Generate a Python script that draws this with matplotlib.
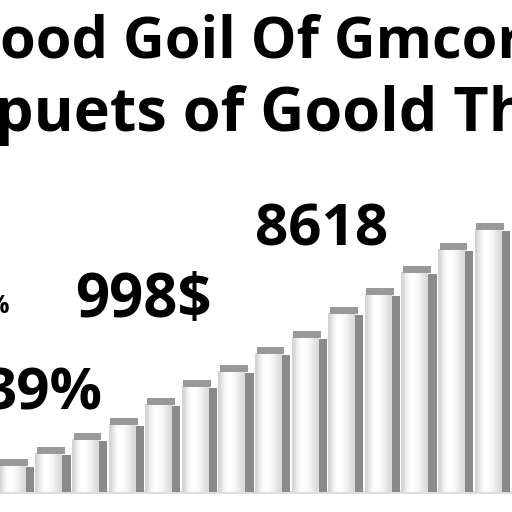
import numpy as np
import matplotlib
matplotlib.use('Agg')
import matplotlib.pyplot as plt

# chart data
values = [33, 45, 59, 74, 94, 112, 127, 145, 161, 185, 204, 226, 249, 269]
title1 = 'ood Goil Of Gmcorv'
title2 = 'puets of Goold Th'
labels = ['8618', '998$', '39%', '%']

plt.rcParams['font.family'] = ['Open Sans', 'DejaVu Sans']

fig = plt.figure(figsize=(5.12, 5.12), dpi=100)
ax = fig.add_axes([0, 0, 1, 1])
ax.axis('off')

x = np.arange(len(values))
v = np.array(values, dtype=float)

# side faces (darker, to the right)
ax.bar(x + 0.44, v - 8, width=0.32, color='#8a8a8a', zorder=2)

# front faces with a soft horizontal gradient
fronts = ax.bar(x, v - 6, width=0.72, color='none', zorder=3)
grad = np.array([[0.82, 0.93, 0.99, 1.0, 0.98, 0.95, 0.9, 0.85]])
for b in fronts:
    x0, w, h = b.get_x(), b.get_width(), b.get_height()
    im = ax.imshow(grad, cmap='gray', vmin=0, vmax=1, aspect='auto',
                   extent=(x0, x0 + w, 0, h), zorder=3, interpolation='bicubic')
    im.set_clip_path(b)

# caps on top
ax.bar(x + 0.06, np.full(len(v), 7.0), bottom=v - 7, width=0.76,
       color='#999999', zorder=4)

# floor shadow
ax.axhline(0, color='#dddddd', lw=2, zorder=1)
ax.set_xlim(-0.33, 13.66)
ax.set_ylim(-20, 492)

# big text
ax.text(0.0, 1 - 57 / 512, title1, transform=ax.transAxes, fontsize=41.5,
        fontweight='bold', va='baseline', ha='left', color='black')
ax.text(-0.01, 1 - 131 / 512, title2, transform=ax.transAxes, fontsize=44,
        fontweight='bold', va='baseline', ha='left', color='black')
ax.text(255 / 512, 1 - 245 / 512, labels[0], transform=ax.transAxes, fontsize=42,
        fontweight='bold', va='baseline', ha='left', color='black', zorder=6)
ax.text(75 / 512, 1 - 317 / 512, labels[1], transform=ax.transAxes, fontsize=43,
        fontweight='bold', va='baseline', ha='left', color='black', zorder=6)
ax.text(103 / 512, 1 - 410 / 512, labels[2], transform=ax.transAxes, fontsize=42,
        fontweight='bold', va='baseline', ha='right', color='black', zorder=6)
ax.text(9 / 512, 1 - 313 / 512, labels[3], transform=ax.transAxes, fontsize=18,
        fontweight='bold', va='baseline', ha='right', color='black', zorder=6)

fig.savefig('out.png', dpi=100, facecolor='white')
